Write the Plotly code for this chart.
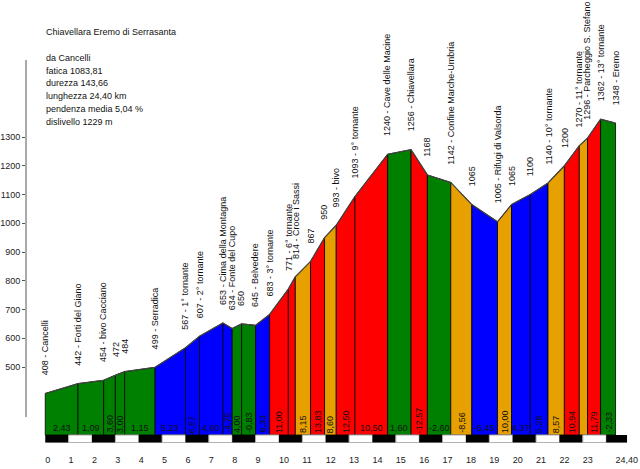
import plotly.graph_objects as go

# ---------------- data ----------------
km = [0, 1.40, 2.50, 3.00, 3.40, 4.70, 6.00, 6.60, 7.60, 8.00, 8.40, 9.00, 9.60,
      10.40, 10.70, 11.35, 11.95, 12.45, 13.25, 14.65, 15.65, 16.35, 17.35, 18.25,
      19.35, 19.95, 20.75, 21.51, 22.21, 22.85, 23.20, 23.76, 24.40]
elev = [408, 442, 454, 472, 484, 499, 567, 607, 653, 634, 650, 645, 683, 771, 814,
        867, 950, 993, 1093, 1240, 1256, 1168, 1142, 1065, 1005, 1065, 1100, 1140,
        1200, 1270, 1296, 1362, 1348]
names = ["Cancelli", "Forti del Giano", "bivo Cacciano", "", "", "Serradica",
         "1° tornante", "2° tornante", "Cima della Montagna", "Fonte del Cupo", "",
         "Belvedere", "3° tornante", "6° tornante", "Croce i Sassi", "", "", "bivo",
         "9° tornante", "Cave delle Macine", "Chiavellara", "", "Confine Marche-Umbria",
         "", "Rifugi di Valsorda", "", "", "10° tornante", "", "11° tornante",
         "Parcheggio S. Stefano", "13° tornante", "Eremo"]
slope_labels = ["2,43", "1,09", "3,60", "3,00", "1,15", "5,23", "6,67", "4,60", "-4,75",
                "4,00", "-0,83", "6,33", "11,00", "", "8,15", "13,83", "8,60", "12,50",
                "10,50", "1,60", "-12,57", "-2,60", "-8,56", "-5,45", "10,00", "4,37",
                "5,26", "8,57", "10,94", "", "11,79", "-2,33"]
x_tick_vals = list(range(0, 24)) + [24.4]
x_tick_text = [str(i) for i in range(0, 24)] + ["24,40"]
y_tick_vals = [500, 600, 700, 800, 900, 1000, 1100, 1200, 1300]
title_text = "Chiavellara Eremo di Serrasanta"
info_lines = ["da Cancelli", "fatica 1083,81", "durezza 143,66", "lunghezza 24,40 km",
              "pendenza media 5,04 %", "dislivello 1229 m"]

# ---------------- layout helpers ----------------
W, H = 640, 469
ML, MB = 24, 26
KM0_PX, PX_KM = 43.3, 23.45
E500_PY, PX_M = 367.0, 0.2875
FONT = "Liberation Sans, Arial, sans-serif"


def km_at(px):
    return (px - KM0_PX) / PX_KM


def el_at(py):
    return 500 + (E500_PY - py) / PX_M


def pxw(py_paper):
    return 1 - py_paper / (H - MB)


GREEN, BLUE, ORANGE, RED = "#008000", "#0000FF", "#E6A000", "#FF0000"


def slope_color(s):
    a = abs(s)
    if a <= 4.0001:
        return GREEN
    if a <= 7.0001:
        return BLUE
    if a <= 10.0001:
        return ORANGE
    return RED


base = el_at(435)
fig = go.Figure()

annotations = []
for i in range(len(km) - 1):
    k0, k1, e0, e1 = km[i], km[i + 1], elev[i], elev[i + 1]
    lab = slope_labels[i]
    s = float(lab.replace(",", ".")) if lab else (e1 - e0) / (k1 - k0) / 10.0
    fig.add_trace(go.Scatter(
        x=[k0, k0, k1, k1, k0], y=[base, e0, e1, base, base],
        fill="toself", fillcolor=slope_color(s), mode="lines",
        line=dict(color="black", width=0.8), hoverinfo="skip", showlegend=False))
    if lab:
        seg_px = (k1 - k0) * PX_KM
        txt_px = sum(2.5 if c == "," else 3.0 if c == "-" else 5.0 for c in lab)
        horiz = seg_px >= txt_px + 1.0
        annotations.append(dict(
            x=(k0 + k1) / 2, y=base, xref="x", yref="y", text=lab, showarrow=False,
            textangle=0 if horiz else -90, xanchor="center", yanchor="bottom",
            yshift=0, font=dict(size=9, color="#111", family=FONT)))

fig.add_trace(go.Scatter(x=km, y=elev, mode="lines",
                         line=dict(color="#444", width=1.2),
                         hoverinfo="skip", showlegend=False))

for k, e, n in zip(km, elev, names):
    txt = f"{e} - {n}" if n else f"{e}"
    annotations.append(dict(
        x=k, y=e, xref="x", yref="y", text=txt, showarrow=False, textangle=-90,
        xanchor="center", yanchor="bottom", yshift=16,
        font=dict(size=9, color="#111", family=FONT)))

annotations.append(dict(x=km_at(42.0), y=pxw(32.3), xref="x", yref="paper",
                        text=title_text, showarrow=False, xanchor="left",
                        yanchor="middle", font=dict(size=9, color="#111", family=FONT)))
for j, line in enumerate(info_lines):
    annotations.append(dict(x=km_at(42.0), y=pxw(57.7 + j * 12.85), xref="x", yref="paper",
                            text=line, showarrow=False, xanchor="left", yanchor="middle",
                            font=dict(size=9, color="#111", family=FONT)))

shapes = []
bar_top, bar_bot = el_at(435), el_at(442.6)
bar_end = km_at(627)
for k in range(25):
    x0, x1 = k, min(k + 1, bar_end)
    if k % 2 == 0:
        shapes.append(dict(type="rect", xref="x", yref="y", x0=x0, x1=x1,
                           y0=bar_bot, y1=bar_top, fillcolor="black",
                           line=dict(width=0), layer="above"))
    else:
        shapes.append(dict(type="rect", xref="x", yref="y", x0=x0, x1=x1,
                           y0=bar_bot, y1=bar_top, fillcolor="white",
                           line=dict(width=1, color="#aaa"), layer="above"))
shapes.append(dict(type="line", xref="paper", yref="y", x0=0, x1=0,
                   y0=el_at(417), y1=el_at(60), line=dict(color="#555", width=1)))

fig.update_layout(
    width=W, height=H, margin=dict(l=ML, r=0, t=0, b=MB, pad=0),
    paper_bgcolor="white", plot_bgcolor="white", showlegend=False,
    annotations=annotations, shapes=shapes,
    font=dict(family=FONT, size=9, color="#111"),
    xaxis=dict(range=[km_at(ML), km_at(W)], tickmode="array", tickvals=x_tick_vals,
               ticktext=x_tick_text, ticklabelposition="outside right",
               ticks="", ticklabelstandoff=10,
               showgrid=False, zeroline=False, showline=False,
               tickfont=dict(size=9, family=FONT, color="#222")),
    yaxis=dict(range=[el_at(H - MB), el_at(0)], tickmode="array", tickvals=y_tick_vals,
               ticks="outside", ticklen=3, tickcolor="#555", showgrid=False,
               zeroline=False, showline=False,
               tickfont=dict(size=9, family=FONT, color="#222")),
)

fig.write_html("out.html")
